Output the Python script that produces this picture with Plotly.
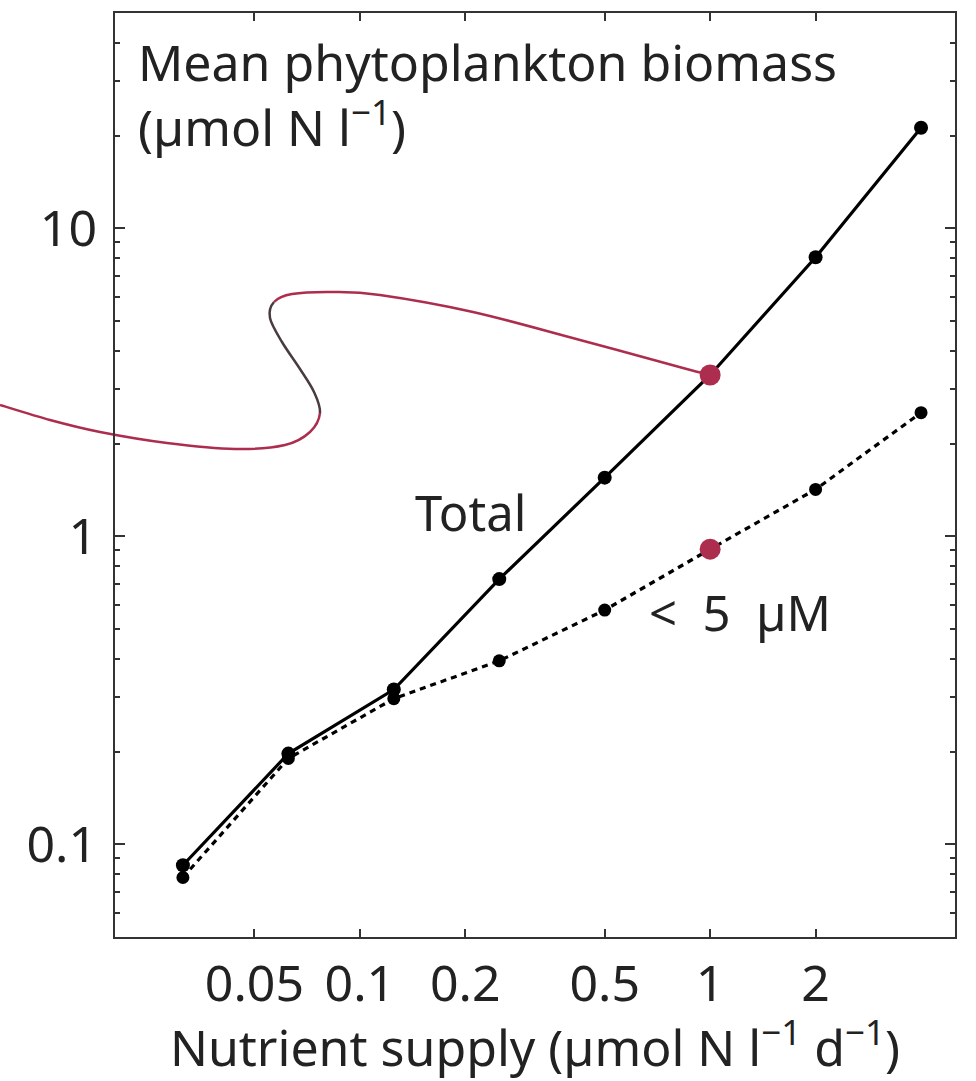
import numpy as np
import plotly.graph_objects as go

# ---------------- data ----------------
supply = [0.03125, 0.0625, 0.125, 0.25, 0.5, 1, 2, 4]
total = [0.0855, 0.197, 0.318, 0.726, 1.55, 3.34, 8.05, 21.2]
small = [0.078, 0.19, 0.297, 0.394, 0.576, 0.908, 1.42, 2.52]
highlight_x = [1, 1]
highlight_y = [3.34, 0.908]
x_tickvals = [0.05, 0.1, 0.2, 0.5, 1, 2]
x_ticktext = ["0.05", "0.1", "0.2", "0.5", "1", "2"]
y_tickvals = [0.1, 1, 10]
y_ticktext = ["0.1", "1", "10"]

# ---------------- layout geometry ----------------
W, H = 976, 1081
L, R, T, B = 115, 21, 13, 144
pw, ph = W - L - R, H - T - B
XR = [np.log10(0.02), np.log10(5)]
YR = [np.log10(0.05), np.log10(50)]

RED = "#ad2d4e"
DARK = "#4a3b42"
FONT = "Noto Sans"
TXT = "#222"


def px_to_paper(px, py):
    return (px - L) / pw, (T + ph - py) / ph


def data_to_px(x, y):
    fx = (np.log10(x) - XR[0]) / (XR[1] - XR[0])
    fy = (np.log10(y) - YR[0]) / (YR[1] - YR[0])
    return L + fx * pw, T + ph - fy * ph


# schematic S-curve (decorative callout), pixel anchor points
end_px = data_to_px(highlight_x[0], highlight_y[0])
curve_px = [(0, 405), (50, 420), (100, 432), (167, 443), (235, 449), (285, 445),
            (310, 432), (320, 413), (314, 392), (300, 369), (282, 342), (270, 318),
            (274, 302), (292, 294), (333, 292), (380, 295), (473, 312), (580, 340),
            (683, 368), end_px]
dark_range = (7, 12)  # segment indices drawn dark (unstable branch)

pts = [np.array(px_to_paper(*p)) for p in curve_px]
n = len(pts)
segs = []
for i in range(n - 1):
    p0 = pts[i - 1] if i > 0 else pts[i]
    p1 = pts[i]
    p2 = pts[i + 1]
    p3 = pts[i + 2] if i + 2 < n else pts[i + 1]
    c1 = p1 + (p2 - p0) / 6
    c2 = p2 - (p3 - p1) / 6
    segs.append((p1, c1, c2, p2))


def path_of(seg_list):
    s = "M %.5f,%.5f" % tuple(seg_list[0][0])
    for p1, c1, c2, p2 in seg_list:
        s += " C %.5f,%.5f %.5f,%.5f %.5f,%.5f" % (c1[0], c1[1], c2[0], c2[1], p2[0], p2[1])
    return s


groups = [(segs[:dark_range[0]], RED), (segs[dark_range[0]:dark_range[1]], DARK),
          (segs[dark_range[1]:], RED)]
shapes = [dict(type="path", xref="paper", yref="paper", path=path_of(g),
               line=dict(color=c, width=2.5), layer="below") for g, c in groups]

fig = go.Figure()
fig.add_trace(go.Scatter(x=supply, y=small, mode="lines+markers",
                         line=dict(color="black", width=3.2, dash="6px,5px"),
                         marker=dict(color="black", size=13), showlegend=False))
fig.add_trace(go.Scatter(x=supply, y=total, mode="lines+markers",
                         line=dict(color="black", width=3.2),
                         marker=dict(color="black", size=14), showlegend=False))
fig.add_trace(go.Scatter(x=highlight_x, y=highlight_y, mode="markers",
                         marker=dict(color=RED, size=21), showlegend=False))

axis_common = dict(showline=True, linecolor="#333", linewidth=2, mirror="ticks",
                   ticks="inside", tickcolor="#333", showgrid=False, zeroline=False,
                   tickfont=dict(family=FONT, size=50, color=TXT))

fig.update_xaxes(type="log", range=XR, tickvals=x_tickvals, ticktext=x_ticktext,
                 ticklen=8, tickwidth=2, ticklabelstandoff=2,
                 title=dict(text="Nutrient supply (µmol N l<sup>−1</sup> d<sup>−1</sup>)",
                            font=dict(family=FONT, size=50, color=TXT), standoff=0),
                 **axis_common)
fig.update_yaxes(type="log", range=YR, tickvals=y_tickvals, ticktext=y_ticktext,
                 ticklen=10, tickwidth=2, ticklabelstandoff=6,
                 minor=dict(ticks="inside", ticklen=5, tickwidth=1.5, tickcolor="#333",
                            dtick="D1", showgrid=False),
                 **axis_common)

fig.add_annotation(xref="paper", yref="paper", x=px_to_paper(136, 0)[0],
                   y=px_to_paper(0, 26)[1], xanchor="left", yanchor="top", align="left",
                   text="Mean phytoplankton biomass<br>(µmol N l<sup>−1</sup>)",
                   showarrow=False, font=dict(family=FONT, size=50, color=TXT))
fig.add_annotation(xref="paper", yref="paper", x=px_to_paper(470, 0)[0],
                   y=px_to_paper(0, 512)[1], xanchor="center", yanchor="middle",
                   text="Total", showarrow=False,
                   font=dict(family=FONT, size=49, color=TXT))
fig.add_annotation(xref="paper", yref="paper", x=px_to_paper(740, 0)[0],
                   y=px_to_paper(0, 612)[1], xanchor="center", yanchor="middle",
                   text="<  5  µM", showarrow=False,
                   font=dict(family=FONT, size=49, color=TXT))

fig.update_layout(width=W, height=H, margin=dict(l=L, r=R, t=T, b=B),
                  paper_bgcolor="white", plot_bgcolor="white", shapes=shapes)

fig.write_html("out.html")
